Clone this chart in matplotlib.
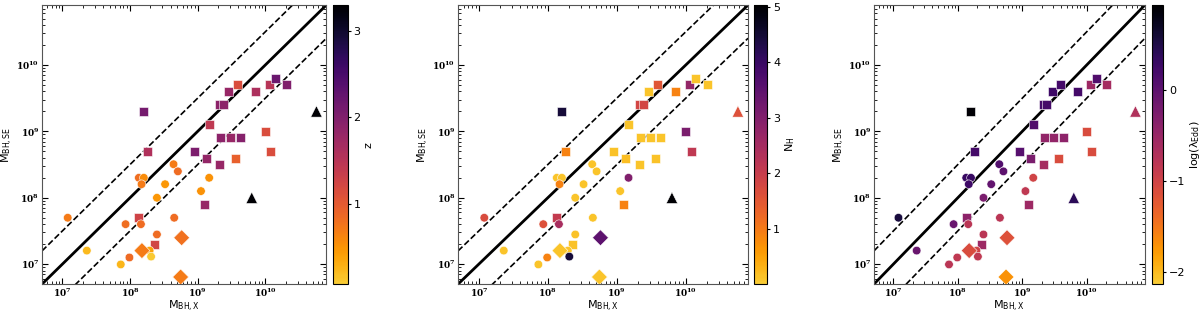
import matplotlib
matplotlib.use('Agg')
import matplotlib.pyplot as plt
import numpy as np
from matplotlib.colors import ListedColormap

# dados: massas de buraco negro (X-ray vs single-epoch)

# quadrados
sq_x = [1.6e8, 1.8e8, 1.35e8, 2.3e8, 8.9e8, 1.35e9, 1.26e9, 1.5e9, 2.1e9, 2.1e9, 2.4e9,
        2.2e9, 3.1e9, 4.3e9, 2.9e9, 3.9e9, 3.6e9, 7.2e9, 1.0e10, 1.15e10, 1.2e10, 1.4e10, 2.05e10]
sq_y = [2.0e9, 5.0e8, 5.0e7, 2.0e7, 5.0e8, 3.9e8, 8.0e7, 1.26e9, 3.2e8, 2.5e9, 2.5e9,
        8.0e8, 8.0e8, 8.0e8, 4.0e9, 5.0e9, 3.9e8, 4.0e9, 1.0e9, 5.0e9, 5.0e8, 6.2e9, 5.0e9]
sq_z = [2.1, 1.58, 1.28, 1.25, 2.05, 1.83, 1.8, 1.43, 1.8, 1.9, 1.9,
        1.9, 1.8, 1.95, 1.8, 1.15, 0.95, 1.6, 1.15, 1.5, 1.15, 2.2, 2.0]
sq_nh = [4.45, 0.9, 2.06, 0.15, 0.15, 0.2, 0.9, 0.12, 0.12, 1.8, 1.8,
         0.12, 0.12, 0.12, 0.12, 1.55, 0.15, 0.9, 3.09, 2.75, 2.12, 0.12, 0.12]
sq_led = [0.9, 0.2, -0.4, -0.55, 0.05, -0.25, -0.55, 0.1, -0.6, 0.2, 0.2,
          -0.45, -0.45, -0.4, 0.25, 0.2, -1.1, 0.2, -1.1, -0.55, -1.1, 0.1, -0.6]

# circulos
ci_x = [1.2e7, 2.3e7, 7.3e7, 9.8e7, 8.6e7, 1.45e8, 1.35e8, 1.6e8, 1.48e8, 1.95e8,
        2.05e8, 2.5e8, 2.5e8, 3.3e8, 4.4e8, 5.1e8, 4.5e8, 1.12e9, 1.48e9]
ci_y = [5.0e7, 1.6e7, 9.9e6, 1.26e7, 4.0e7, 4.0e7, 2.0e8, 2.0e8, 1.6e8, 1.6e7,
        1.3e7, 1.0e8, 2.8e7, 1.6e8, 3.2e8, 2.5e8, 5.0e7, 1.26e8, 2.0e8]
ci_z = [0.7, 0.22, 0.24, 0.85, 0.82, 0.83, 0.82, 0.55, 0.7, 0.4,
        0.1, 0.48, 0.83, 0.48, 0.7, 0.83, 0.83, 0.52, 0.52]
ci_nh = [1.7, 0.12, 0.12, 0.9, 1.6, 2.46, 0.12, 0.12, 0.9, 0.12,
         4.45, 0.12, 0.15, 0.12, 0.12, 0.12, 0.12, 0.12, 3.0]
ci_led = [0.55, -0.1, -0.8, -0.85, -0.1, -0.8, 0.3, 0.3, 0.25, -1.0,
          -0.85, -0.25, -0.8, -0.05, 0.1, 0.0, -0.8, -0.85, -1.0]

# losangos
di_x = [1.5e8, 5.8e8, 5.6e8]
di_y = [1.6e7, 2.5e7, 6.4e6]
di_z = [0.7, 0.78, 0.7]
di_nh = [0.12, 3.5, 0.12]
di_led = [-1.1, -1.15, -1.7]

# triangulos
tr_x = [6.3e9, 5.7e10]
tr_y = [1.0e8, 2.0e9]
tr_z = [3.3, 3.3]
tr_nh = [5.0, 1.6]
tr_led = [0.4, -0.7]

# colormap: inferno invertido e cortado antes do amarelo claro
cmap = ListedColormap(plt.cm.inferno(np.linspace(0.88, 0.0, 256)))

plt.rcParams['mathtext.default'] = 'regular'

fig = plt.figure(figsize=(12, 3.15), dpi=100)

paineis = [
    ([sq_z, ci_z, di_z, tr_z], 0.07, 3.3, [1, 2, 3], 'z',
     [0.035, 0.098, 0.237, 0.886], [0.2775, 0.098, 0.0125, 0.886]),
    ([sq_nh, ci_nh, di_nh, tr_nh], 0.01, 5.03, [1, 2, 3, 4, 5], r'$N_H$',
     [0.3817, 0.098, 0.2417, 0.886], [0.628, 0.098, 0.0115, 0.886]),
    ([sq_led, ci_led, di_led, tr_led], -2.13, 0.93, [-2, -1, 0], r'log($\lambda_{Edd}$)',
     [0.7283, 0.098, 0.2258, 0.886], [0.96, 0.098, 0.0095, 0.886]),
]

lim = (5e6, 8e10)
linha = np.array(lim)

for cores, vmin, vmax, cticks, clabel, pos, cpos in paineis:
    ax = fig.add_axes(pos)
    ax.set_xscale('log')
    ax.set_yscale('log')

    ax.plot(linha, linha, c='k', lw=2, zorder=1)
    ax.plot(linha, linha * 10**0.5, c='k', ls='--', lw=1.2, zorder=1)
    ax.plot(linha, linha / 10**0.5, c='k', ls='--', lw=1.2, zorder=1)

    kw = dict(cmap=cmap, vmin=vmin, vmax=vmax, edgecolors='w', linewidths=0.4, zorder=3)
    sc = ax.scatter(sq_x, sq_y, c=cores[0], marker='s', s=42, **kw)
    ax.scatter(ci_x, ci_y, c=cores[1], marker='o', s=38, **kw)
    ax.scatter(di_x, di_y, c=cores[2], marker='D', s=66, **kw)
    ax.scatter(tr_x, tr_y, c=cores[3], marker='^', s=68, **kw)

    ax.set_xlim(lim)
    ax.set_ylim(lim)
    ax.tick_params(which='both', direction='in', top=True, right=True, pad=2)
    ax.tick_params(which='major', length=4, width=0.8)
    ax.tick_params(which='minor', length=2, width=0.6)
    for lb in ax.get_xticklabels() + ax.get_yticklabels():
        lb.set_family('DejaVu Serif')
        lb.set_weight('bold')
        lb.set_fontsize(6.5)
    ax.set_xlabel(r'$M_{BH,X}$', fontsize=8, labelpad=0)
    ax.set_ylabel(r'$M_{BH,SE}$', fontsize=8, labelpad=1)
    for sp in ax.spines.values():
        sp.set_color('#555555')

    cax = fig.add_axes(cpos)
    cb = fig.colorbar(sc, cax=cax)
    cb.set_ticks(cticks)
    cb.ax.tick_params(labelsize=8, length=2.5, pad=1.5)
    cb.set_label(clabel, fontsize=8, labelpad=2)

fig.savefig('out.png', dpi=100)
